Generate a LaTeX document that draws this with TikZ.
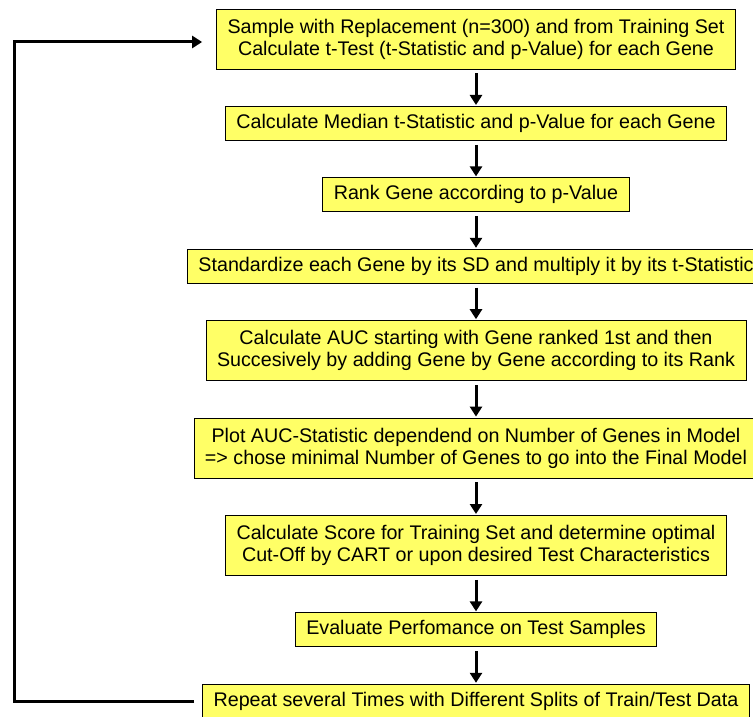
\documentclass[tikz,border=0pt]{standalone}
\usepackage{fontspec}
\setmainfont{Liberation Sans}
\usetikzlibrary{arrows.meta}
\definecolor{boxyellow}{RGB}{255,255,102}
\begin{document}
\begin{tikzpicture}[x=1pt, y=1pt, >={Triangle[length=10pt, width=12pt]},
        stepbox/.style={draw, fill=boxyellow, line width=0.8pt, align=center, inner xsep=11pt, inner ysep=0pt,
            minimum height=34pt, font=\fontsize{19.7}{22}\selectfont},
        twoline/.style={minimum height=60pt},
        flow/.style={->, line width=3pt, shorten <=4pt, shorten >=1pt},
        loopback/.style={->, line width=3pt, line join=miter, shorten <=8pt, shorten >=14pt}]
    \useasboundingbox (0,0) rectangle (753,-717);
    \node[stepbox, twoline] (sample) at (476,-39) {Sample with Replacement (n=300) and from Training Set\\Calculate t-Test (t-Statistic and p-Value) for each Gene};
    \node[stepbox] (median) at (476,-123.4) {Calculate Median t-Statistic and p-Value for each Gene};
    \node[stepbox] (rank) at (476,-194.8) {Rank Gene according to p-Value};
    \node[stepbox] (standard) at (476,-266.2) {Standardize each Gene by its SD and multiply it by its t-Statistic};
    \node[stepbox, twoline] (auc) at (476,-350.6) {Calculate AUC starting with Gene ranked 1st and then\\Succesively by adding Gene by Gene according to its Rank};
    \node[stepbox, twoline] (plot) at (476,-448) {Plot AUC-Statistic dependend on Number of Genes in Model\\=> chose minimal Number of Genes to go into the Final Model};
    \node[stepbox, twoline] (score) at (476,-545.4) {Calculate Score for Training Set and determine optimal\\Cut-Off by CART or upon desired Test Characteristics};
    \node[stepbox] (evaluate) at (476,-629.8) {Evaluate Perfomance on Test Samples};
    \node[stepbox] (repeat) at (476,-701.2) {Repeat several Times with Different Splits of Train/Test Data};
    \draw[flow] (sample) -- (median);
    \draw[flow] (median) -- (rank);
    \draw[flow] (rank) -- (standard);
    \draw[flow] (standard) -- (auc);
    \draw[flow] (auc) -- (plot);
    \draw[flow] (plot) -- (score);
    \draw[flow] (score) -- (evaluate);
    \draw[flow] (evaluate) -- (repeat);
    % feedback to the first step
    \coordinate (backline) at (14,0);
    \draw[loopback] (repeat.west) -- (repeat.west -| backline) -- ([yshift=-3pt]sample.west -| backline) -- ([yshift=-3pt]sample.west);
\end{tikzpicture}
\end{document}
